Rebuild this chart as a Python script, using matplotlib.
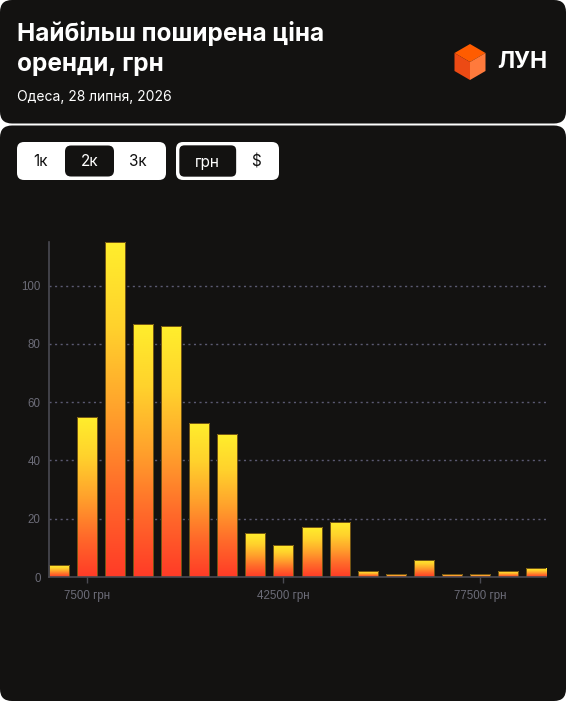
"""
Histogram of rent prices (LUN style card), rendered with matplotlib Agg.
"""
import matplotlib

matplotlib.use("Agg")
import matplotlib.pyplot as plt
import numpy as np
from matplotlib.colors import LinearSegmentedColormap
from matplotlib.patches import FancyBboxPatch, Polygon

W, H = 566, 701

CARD = "#131211"
WHITE = "#ffffff"
GRID = "#5b5a72"
AXIS = "#4a4a52"
MUTED = "#6c6c78"
FONT = ["Inter", "DejaVu Sans"]
TICK_FONT = ["Liberation Sans", "DejaVu Sans"]

# data: 5000 грн bins, centres at 2500 ... 87500
bin_centres = [2500, 7500, 12500, 17500, 22500, 27500, 32500, 37500, 42500,
               47500, 52500, 57500, 62500, 67500, 72500, 77500, 82500, 87500]
counts = [4, 55, 115, 87, 86, 53, 49, 15, 11, 17, 19, 2, 1, 6, 1, 1, 2, 3]
x_ticks = [7500, 42500, 77500]
x_tick_labels = ["7500 грн", "42500 грн", "77500 грн"]
y_ticks = [0, 20, 40, 60, 80, 100]
currency_buttons = ["грн", "$"]
room_buttons = ["1к", "2к", "3к"]

BAR_W = 3570
GRAD = LinearSegmentedColormap.from_list(
    "lun", ["#ff3b27", "#ff6a2a", "#ffa22c", "#ffd22c", "#ffee2c"])

fig = plt.figure(figsize=(W / 100, H / 100), dpi=100, facecolor=WHITE)
T = fig.dpi_scale_trans


def box(x0, y0, x1, y1, r, fc, ec="none", lw=0, z=0):
    # pixel coords, origin top-left
    p = FancyBboxPatch((x0 / 100, (H - y1) / 100), (x1 - x0) / 100, (y1 - y0) / 100,
                       boxstyle=f"round,pad=0,rounding_size={r / 100}",
                       transform=T, facecolor=fc, edgecolor=ec, linewidth=lw, zorder=z)
    fig.patches.append(p)


def txt(x, y, s, **kw):
    fig.text(x / W, 1 - y / H, s, family=FONT, **kw)


# cards
box(0, 0, W, 123.5, 12, CARD)
box(0, 125.5, W, H, 12, CARD)

# header
txt(17, 33, "Найбільш поширена ціна", color=WHITE, fontsize=17.5,
    fontweight="bold", va="center")
txt(17, 64, "оренди, грн", color=WHITE, fontsize=17.5, fontweight="bold", va="center")
txt(17, 97, "Одеса, 28 липня, 2026", color=WHITE, fontsize=10, va="center")

# logo cube
cx, top, mid1, mid2, bot, half = 470, 44, 53, 71, 80, 15.5
faces = [
    ([(cx, top), (cx + half, mid1), (cx, mid1 + 9), (cx - half, mid1)], "#ff5c00"),
    ([(cx - half, mid1), (cx, mid1 + 9), (cx, bot), (cx - half, mid2)], "#ec4a14"),
    ([(cx + half, mid1), (cx, mid1 + 9), (cx, bot), (cx + half, mid2)], "#ff7a3c"),
]
for pts, c in faces:
    fig.patches.append(Polygon([(px / 100, (H - py) / 100) for px, py in pts],
                               closed=True, transform=T, facecolor=c, edgecolor="none"))
txt(497, 62, "ЛУН", color=WHITE, fontsize=16.5, fontweight="bold", va="center")

# room buttons
box(17, 142, 166, 180, 7, WHITE, z=1)
box(65, 145.5, 114, 176.5, 6, CARD, z=2)
for lbl, x in zip(room_buttons, [41, 89.5, 138]):
    txt(x, 162, lbl, color=WHITE if lbl == "2к" else "#111111", fontsize=11,
        ha="center", va="center", zorder=3)

# currency buttons
box(176, 142, 279, 180, 7, WHITE, z=1)
box(178.5, 144.5, 237, 177.5, 6, CARD, ec=WHITE, lw=1.2, z=2)
for lbl, x in zip(currency_buttons, [207.5, 256]):
    txt(x, 162, lbl, color=WHITE if lbl == "грн" else "#111111", fontsize=11,
        ha="center", va="center", zorder=3)

# chart
ax = fig.add_axes([49 / W, (H - 577) / H, 497 / W, 335 / H])
ax.set_zorder(10)
ax.set_facecolor("none")

bars = ax.bar(bin_centres, counts, width=BAR_W, facecolor="none",
              edgecolor="#6e5214", linewidth=0.7, zorder=4)
grad = np.linspace(0, 1, 256).reshape(-1, 1)
for b in bars:
    x0, w, h = b.get_x(), b.get_width(), b.get_height()
    im = ax.imshow(grad, extent=[x0, x0 + w, 0, h], origin="lower", aspect="auto",
                   cmap=GRAD, zorder=3)
    im.set_clip_path(b)
ax.set_xlim(bin_centres[0] - BAR_W / 2, bin_centres[-1] + BAR_W / 2)
ax.set_ylim(0, max(counts))

for y in y_ticks[1:]:
    ax.axhline(y, color=GRID, linewidth=1, linestyle=(0, (1.5, 2.5)), zorder=1)

ax.set_yticks(y_ticks)
ax.set_yticklabels([str(v) for v in y_ticks], family=TICK_FONT)
ax.set_xticks(x_ticks)
ax.set_xticklabels(x_tick_labels, family=TICK_FONT)
ax.tick_params(axis="y", length=0, pad=6, colors=MUTED, labelsize=8.3)
ax.tick_params(axis="x", length=4, width=1, pad=5, colors=MUTED, labelsize=8.3)
ax.tick_params(axis="x", color=AXIS)
for s in ["top", "right"]:
    ax.spines[s].set_visible(False)
for s in ["left", "bottom"]:
    ax.spines[s].set_color(AXIS)
    ax.spines[s].set_linewidth(1.2)
    ax.spines[s].set_zorder(5)

fig.savefig("out.png", dpi=100, facecolor=WHITE)
